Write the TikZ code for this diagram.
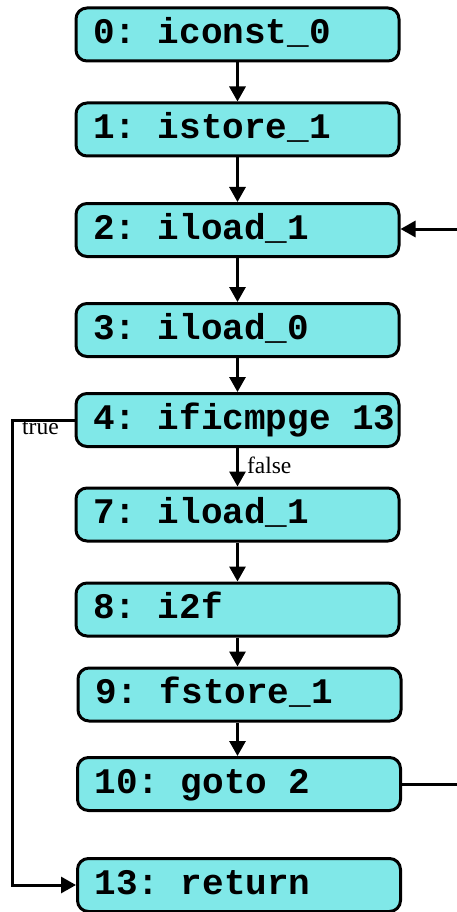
\documentclass[tikz,border=0pt]{standalone}
\usepackage{fontspec}
\setmainfont{Liberation Serif}
\newfontfamily\codefont{Liberation Mono}
\usetikzlibrary{arrows.meta}
\definecolor{boxcyan}{RGB}{128,232,232}
\frenchspacing
% left-aligned instruction text inside a fixed-width box
\newcommand{\insntext}[1]{\makebox[289pt][l]{#1}}
\begin{document}
\begin{tikzpicture}[x=1pt,y=-1pt,
  insn/.style={draw=black, line width=3pt, fill=boxcyan, rounded corners=11pt,
    minimum width=323pt, minimum height=53pt, inner sep=0pt,
    text height=22pt, text depth=4pt,
    font=\codefont\bfseries\fontsize{36}{36}\selectfont\frenchspacing},
  flow/.style={line width=3pt, -{Triangle[length=15pt,width=16pt]}},
  plain/.style={line width=3pt},
  edgelbl/.style={font=\fontsize{23.5}{23.5}\selectfont, inner sep=0pt}]
\useasboundingbox (0,0) rectangle (457,912);

% bytecode instructions
\node[insn] (i0)  at (237.5,34.5) {\insntext{0: iconst\_0}};
\node[insn] (i1)  at (237.5,129.5) {\insntext{1: istore\_1}};
\node[insn] (i2)  at (237.5,230) {\insntext{2: iload\_1}};
\node[insn] (i3)  at (237.5,330) {\insntext{3: iload\_0}};
\node[insn] (i4)  at (237.5,420) {\insntext{4: ificmpge 13}};
\node[insn] (i7)  at (237.5,514.5) {\insntext{7: iload\_1}};
\node[insn] (i8)  at (237.5,609.5) {\insntext{8: i2f}};
\node[insn] (i9)  at (239.5,694.5) {\insntext{9: fstore\_1}};
\node[insn] (i10) at (239,784) {\insntext{10: goto 2}};
\node[insn] (i13) at (239,885) {\insntext{13: return}};

% straight-line flow
\draw[flow] (i0.south) -- (i0.south |- i1.north);
\draw[flow] (i1.south) -- (i1.south |- i2.north);
\draw[flow] (i2.south) -- (i2.south |- i3.north);
\draw[flow] (i3.south) -- (i3.south |- i4.north);
\draw[flow] (i4.south) -- (i4.south |- i7.north)
  node[edgelbl, anchor=west, pos=0.45, xshift=8pt] {false};
\draw[flow] (i7.south) -- (i7.south |- i8.north);
\draw[flow] (i8.south) -- (i8.south |- i9.north);
\draw[flow] (i9.south -| i7.south) -- (i7.south |- i10.north);

% taken branch of ificmpge
\coordinate (tl) at (12,420);
\coordinate (bl) at (12,885);
\draw[flow] (i4.west) -- (tl) -- (bl) -- (i13.west);
\node[edgelbl, anchor=north west] (lt) at (22,421) {true};

% back edge of goto (loop)
\coordinate (gin) at (457,229);
\coordinate (gout) at (457,784);
\draw[flow] (gin) -- (i2.east |- gin);
\draw[plain] (i10.east) -- (gout);
\end{tikzpicture}
\end{document}
